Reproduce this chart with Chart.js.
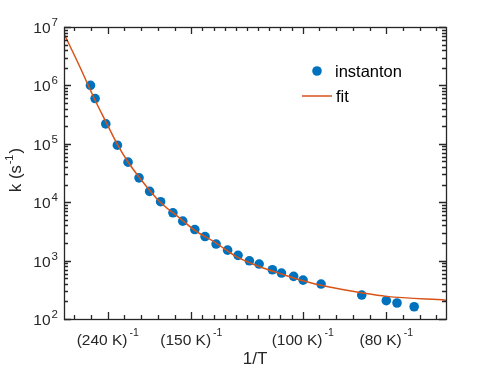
<!DOCTYPE html>
<html lang="en">
<head>
  <meta charset="UTF-8" />
  <title>Instanton rate vs 1/T</title>
  <script src="https://cdn.jsdelivr.net/npm/chart.js"></script>
  <style>
    html, body { margin: 0; padding: 0; background: #fff; }
    #wrap { width: 494px; height: 371px; }
  </style>
</head>
<body>
  <div id="wrap"><canvas id="rateChart" width="494" height="371"></canvas></div>

  <script>
    // instanton rates: temperature (K) and k (s^-1)
    const instT = [274, 264, 243.5, 224.5, 209.5, 196, 184.5, 174, 163.5, 156, 147.7, 141.3, 135,
                   129, 124, 119, 115, 110, 106.8, 102.8, 99.9, 94.8, 85, 80, 78, 75];
    const instK = [1.0e6, 5.96e5, 2.19e5, 9.46e4, 4.85e4, 2.61e4, 1.53e4, 1.02e4, 6.58e3, 4.74e3,
                   3.40e3, 2.58e3, 1.92e3, 1.51e3, 1.23e3, 993, 873, 697, 612, 537, 464, 397,
                   257, 206, 188, 162];

    // fitted curve
    const fitT = [350, 300, 265, 242, 226, 210, 195, 175, 158, 148, 135, 125, 115, 106, 100, 92.6, 84.8, 80, 70];
    const fitK = [7.65e6, 2.07e6, 5.8e5, 2.25e5, 1.05e5, 4.97e4, 2.58e4, 1.03e4, 5.3e3, 3.33e3,
                  2.0e3, 1.18e3, 794, 573, 452, 352, 279, 244, 210];

    // x axis ticks, labelled as (T K)^-1
    const tickT = [240, 150, 100, 80];
    const minorSplit = [5, 10, 5];      // minor divisions between labelled ticks
    const yExp = [2, 3, 4, 5, 6, 7];

    const FONT = '"Liberation Sans", Arial, Helvetica, sans-serif';
    const BLUE = '#0072BD';
    const ORANGE = '#D95319';
    const AXIS = '#262626';

    // draw a run of text pieces, each with own size and rise (for superscripts)
    function drawParts(ctx, parts, x, y, align) {
      let total = 0;
      parts.forEach(p => {
        ctx.font = p.size + 'px ' + FONT;
        p.w = ctx.measureText(p.t).width;
        total += p.w + (p.gap || 0);
      });
      let cx = align === 'right' ? x - total : align === 'center' ? x - total / 2 : x;
      ctx.textAlign = 'left';
      ctx.textBaseline = 'alphabetic';
      parts.forEach(p => {
        cx += p.gap || 0;
        ctx.font = p.size + 'px ' + FONT;
        ctx.fillText(p.t, cx, y - (p.rise || 0));
        cx += p.w;
      });
    }

    const frame = {
      id: 'frame',
      afterDatasetsDraw(chart) {
        const { ctx, chartArea: a, scales: { x, y } } = chart;
        ctx.save();
        ctx.strokeStyle = AXIS;
        ctx.fillStyle = AXIS;
        ctx.lineWidth = 1.3;

        // x ticks (bottom and top, pointing inward)
        const major = tickT.map(t => 1 / t);
        let minor = [];
        for (let i = 0; i < major.length - 1; i++) {
          const step = (major[i + 1] - major[i]) / minorSplit[i];
          for (let k = 1; k < minorSplit[i]; k++) minor.push(major[i] + k * step);
        }
        const edgeStep = (major[1] - major[0]) / minorSplit[0];
        for (let v = major[0] - edgeStep; v > x.min; v -= edgeStep) minor.push(v);
        for (let v = major[major.length - 1] + edgeStep; v < x.max; v += edgeStep) minor.push(v);

        const xTick = (v, len) => {
          const px = Math.round(x.getPixelForValue(v)) + 0.5;
          ctx.beginPath();
          ctx.moveTo(px, a.bottom); ctx.lineTo(px, a.bottom - len);
          ctx.moveTo(px, a.top); ctx.lineTo(px, a.top + len);
          ctx.stroke();
        };
        major.forEach(v => xTick(v, 7));
        minor.forEach(v => xTick(v, 4));

        // y ticks (left and right)
        const yTick = (v, len) => {
          const py = Math.round(y.getPixelForValue(v)) + 0.5;
          ctx.beginPath();
          ctx.moveTo(a.left, py); ctx.lineTo(a.left + len, py);
          ctx.moveTo(a.right, py); ctx.lineTo(a.right - len, py);
          ctx.stroke();
        };
        yExp.forEach((e, i) => {
          yTick(Math.pow(10, e), 7);
          if (i < yExp.length - 1) {
            for (let m = 2; m <= 9; m++) yTick(m * Math.pow(10, e), 4);
          }
        });

        // box
        ctx.strokeRect(a.left + 0.5, a.top + 0.5, a.right - a.left, a.bottom - a.top);

        // y tick labels
        yExp.forEach(e => {
          const py = y.getPixelForValue(Math.pow(10, e));
          drawParts(ctx, [
            { t: '10', size: 15.5 },
            { t: String(e), size: 11.5, rise: 7, gap: 1 }
          ], a.left - 6, py + 6, 'right');
        });

        // x tick labels
        tickT.forEach(t => {
          const px = x.getPixelForValue(1 / t);
          drawParts(ctx, [
            { t: '(' + t + ' K)', size: 15.5 },
            { t: '-1', size: 10.5, rise: 9.5, gap: 2 }
          ], px, a.bottom + 26, 'center');
        });

        // axis titles
        drawParts(ctx, [{ t: '1/T', size: 17 }], (a.left + a.right) / 2, 364, 'center');
        ctx.save();
        ctx.translate(21, 170);
        ctx.rotate(-Math.PI / 2);
        drawParts(ctx, [
          { t: 'k (s', size: 16.5 },
          { t: '-1', size: 11, rise: 8, gap: 1 },
          { t: ')', size: 16.5, gap: 1 }
        ], 0, 0, 'center');
        ctx.restore();

        // legend
        ctx.fillStyle = BLUE;
        ctx.beginPath();
        ctx.arc(a.right - 129, a.top + 44, 4.8, 0, Math.PI * 2);
        ctx.fill();
        ctx.strokeStyle = ORANGE;
        ctx.lineWidth = 1.5;
        ctx.beginPath();
        ctx.moveTo(a.right - 144, a.top + 69);
        ctx.lineTo(a.right - 114, a.top + 69);
        ctx.stroke();
        ctx.fillStyle = '#000';
        ctx.font = '16.5px ' + FONT;
        ctx.textAlign = 'left';
        ctx.textBaseline = 'middle';
        ctx.fillText('instanton', a.right - 111, a.top + 45);
        ctx.fillText('fit', a.right - 110, a.top + 70);
        ctx.restore();
      }
    };

    new Chart(document.getElementById('rateChart'), {
      type: 'scatter',
      data: {
        datasets: [
          {
            label: 'fit',
            data: fitT.map((t, i) => ({ x: 1 / t, y: fitK[i] })),
            showLine: true,
            borderColor: ORANGE,
            borderWidth: 1.5,
            pointRadius: 0,
            cubicInterpolationMode: 'monotone',
            order: 0
          },
          {
            label: 'instanton',
            data: instT.map((t, i) => ({ x: 1 / t, y: instK[i] })),
            backgroundColor: BLUE,
            borderWidth: 0,
            pointRadius: 4.8,
            order: 1
          }
        ]
      },
      options: {
        responsive: false,
        animation: false,
        layout: { padding: { left: 64, top: 27, right: 48, bottom: 52 } },
        plugins: { legend: { display: false }, tooltip: { enabled: false } },
        scales: {
          x: { type: 'linear', display: false, min: 1 / 350, max: 1 / 70 },
          y: { type: 'logarithmic', display: false, min: 100, max: 1e7 }
        }
      },
      plugins: [frame]
    });
  </script>
</body>
</html>
